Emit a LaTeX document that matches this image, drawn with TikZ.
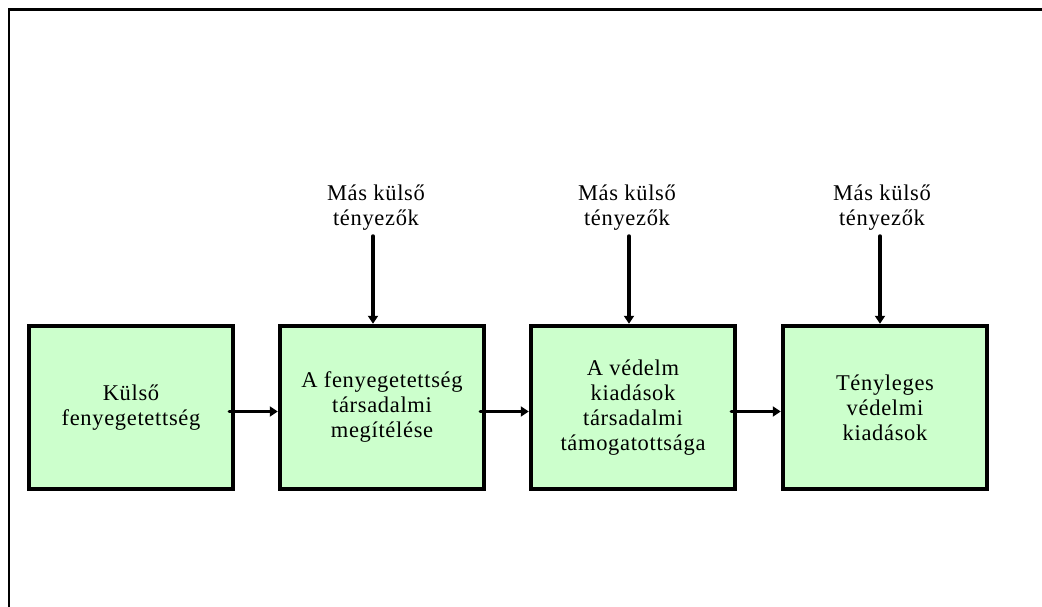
\documentclass[tikz,border=0pt]{standalone}
\usepackage{fontspec}
\setmainfont{Liberation Serif}[LetterSpace=3]
\usetikzlibrary{arrows.meta,calc}
\definecolor{boxgreen}{HTML}{CCFFCC}
\begin{document}
\begin{tikzpicture}[x=1pt,y=-1pt,
  every node/.style={font=\fontsize{22.5}{25}\selectfont},
  box/.style={draw=black,fill=boxgreen,line width=4.5pt,minimum width=204pt,minimum height=163pt,inner sep=0pt,align=center},
  lbl/.style={align=center,inner sep=0pt},
  arr/.style={line width=3.5pt,-{Triangle[length=8pt,width=10pt]},line cap=round}]
\useasboundingbox (0,0) rectangle (1042,607);
\draw[line width=2.5pt] (9,620) -- (9,9.5) -- (1060,9.5);
\node[box] (b1) at (131,407.5) {\baselineskip=26pt Külső\\fenyegetettség};
\node[box] (b2) at (382,407.5) {\baselineskip=22pt A fenyegetettség\\társadalmi\\megítélése};
\node[box] (b3) at (633,407.5) {\baselineskip=26pt A védelm\\kiadások\\társadalmi\\támogatottsága};
\node[box] (b4) at (885,407.5) {\baselineskip=23pt Tényleges\\védelmi\\kiadások};
\node[lbl] (l2) at (376,208) {Más külső\\tényezők};
\node[lbl] (l3) at (627,208) {Más külső\\tényezők};
\node[lbl] (l4) at (882,208) {Más külső\\tényezők};
\coordinate (t2) at (373,236);
\coordinate (t3) at (629,236);
\coordinate (t4) at (880,236);
\draw[arr] (t2) -- (t2 |- b2.north);
\draw[arr] (t3) -- (t3 |- b3.north);
\draw[arr] (t4) -- (t4 |- b4.north);
\draw[arr] ($(b1.east)+(-6,4)$) -- ($(b2.west)+(0,4)$);
\draw[arr] ($(b2.east)+(-6,4)$) -- ($(b3.west)+(0,4)$);
\draw[arr] ($(b3.east)+(-6,4)$) -- ($(b4.west)+(0,4)$);
\end{tikzpicture}
\end{document}
